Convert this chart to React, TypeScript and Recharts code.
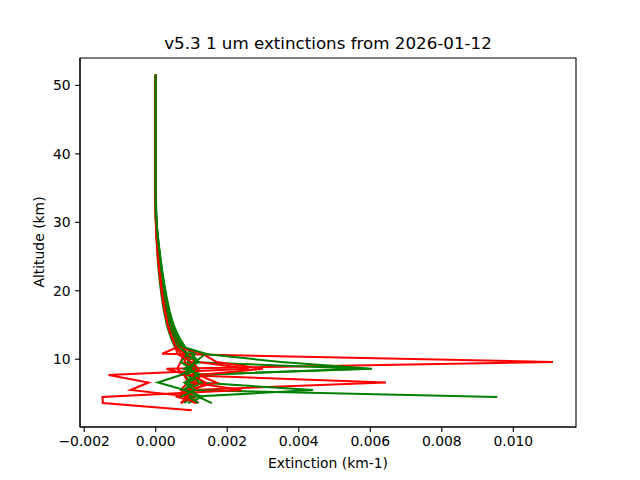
import { ScatterChart, Scatter, XAxis, YAxis, ReferenceArea } from "recharts"

// altitude grid (km), top to bottom
const altitude = [51.55, 45, 40, 35, 31, 29, 27, 25, 23, 21, 19, 17, 15, 13.8, 12.8, 11.8, 10.8, 9.6, 8.6, 7.7, 6.6, 5.5, 4.5, 3.6, 2.55]

// extinction profiles (km-1), one value per altitude level
const red1 = [0, 0, 0, 0, 0, 0.00002, 0.00004, 0.00007, 0.00011, 0.00015, 0.0002, 0.00027, 0.00036, 0.00044, 0.00052, 0.00062, 0.00018, 0.01111, 0.0003, 0.0009, 0.0012, 0.0008, 0.0011, 0.0007]
const red2 = [0, 0, 0, 0, 0.00001, 0.00003, 0.00005, 0.00009, 0.00013, 0.00018, 0.00024, 0.00031, 0.0004, 0.00049, 0.00058, 0.00068, 0.0009, 0.0008, 0.0011, 0.0007, 0.00644, 0.001, 0.0006, 0.00116]
const red3 = [0, 0, 0, 0, 0, 0.00001, 0.00003, 0.00006, 0.0001, 0.00014, 0.00019, 0.00025, 0.00034, 0.00041, 0.00049, 0.00057, 0.0007, 0.0012, 0.0026, -0.00132, -0.0002, -0.0007, 0.001, 0.0012]
const red4 = [0, 0, 0, 0, 0.00001, 0.00003, 0.00006, 0.0001, 0.00015, 0.0002, 0.00026, 0.00034, 0.00044, 0.00053, 0.00062, 0.00072, 0.0009, 0.0011, 0.0008, 0.0013, 0.001, 0.0024, -0.00149, -0.00148, 0.00101]
const red5 = [0, 0, 0, 0, 0, 0.00002, 0.00004, 0.00007, 0.00011, 0.00016, 0.00021, 0.00028, 0.00036, 0.00043, 0.00051, 0.0006, 0.0008, 0.0007, 0.0006, 0.0008, 0.0009, 0.0007, 0.0009, 0.0007]
const red6 = [0, 0, 0, 0, 0.00001, 0.00002, 0.00005, 0.00008, 0.00013, 0.00018, 0.00023, 0.0003, 0.00039, 0.00047, 0.00055, 0.00065, 0.0013, 0.0017, 0.003, 0.0012, 0.0017, 0.0009, 0.0006]
const red7 = [0, 0, 0, 0, 0, 0.00001, 0.00004, 0.00007, 0.0001, 0.00015, 0.0002, 0.00026, 0.00034, 0.00041, 0.00048, 0.00056, 0.0006, 0.001, 0.0012, 0.001, 0.0014, 0.0011, 0.0008, 0.0011]

const green1 = [0, 0, 0, 0, 0.00001, 0.00003, 0.00007, 0.00011, 0.00016, 0.00021, 0.00027, 0.00035, 0.00045, 0.00054, 0.00064, 0.00076, 0.0013, 0.0035, 0.00605, 0.0009, 0.0011, 0.0008, 0.001, 0.0008]
const green2 = [0, 0, 0, 0, 0, 0.00001, 0.00003, 0.00005, 0.00008, 0.00012, 0.00017, 0.00023, 0.00031, 0.00038, 0.00045, 0.00053, 0.0009, 0.0009, 0.0058, 0.0011, 0.0013, 0.0009, 0.0007]
const green3 = [0, 0, 0, 0, 0.00001, 0.00004, 0.00008, 0.00012, 0.00017, 0.00023, 0.00029, 0.00037, 0.00047, 0.00056, 0.00066, 0.00078, 0.0011, 0.0009, 0.0012, 0.0008, 0.001, 0.0008, 0.00955]
const green4 = [0, 0, 0, 0, 0.00001, 0.00003, 0.00006, 0.0001, 0.00015, 0.0002, 0.00026, 0.00033, 0.00043, 0.00052, 0.00061, 0.0007, 0.0008, 0.0012, 0.0009, 0.0011, 0.0012, 0.0044, 0.0009, 0.0012]
const green5 = [0, 0, 0, 0, 0.00002, 0.00004, 0.00008, 0.00013, 0.00018, 0.00024, 0.00031, 0.00039, 0.0005, 0.0006, 0.0007, 0.00082, 0.001, 0.0012, 0.0008, 0.0013, 0.0009, 0.001, 0.0012, 0.00157]
const green6 = [0, 0, 0, 0, 0, 0.00002, 0.00005, 0.00008, 0.00012, 0.00017, 0.00022, 0.00029, 0.00038, 0.00046, 0.00054, 0.00063, 0.0009, 0.0007, 0.001, 0.0007, 0.00006, 0.0008, 0.0013, 0.0009]
const green7 = [0, 0, 0, 0, 0.00001, 0.00004, 0.00007, 0.00012, 0.00017, 0.00022, 0.00028, 0.00036, 0.00046, 0.00055, 0.00065, 0.00076, 0.0014, 0.0011, 0.0009, 0.0012, 0.0008, 0.0011, 0.0007]

const xTicks = [-0.002, 0, 0.002, 0.004, 0.006, 0.008, 0.01]
const yTicks = [10, 20, 30, 40, 50]

const X_MIN = -0.002117
const X_MAX = 0.011753
const Y_MIN = 0.1
const Y_MAX = 54.0

const profiles = [
  { vals: red1, color: "#ff0000" },
  { vals: green1, color: "#008000" },
  { vals: red2, color: "#ff0000" },
  { vals: green2, color: "#008000" },
  { vals: red3, color: "#ff0000" },
  { vals: green3, color: "#008000" },
  { vals: red4, color: "#ff0000" },
  { vals: green4, color: "#008000" },
  { vals: red5, color: "#ff0000" },
  { vals: green5, color: "#008000" },
  { vals: red6, color: "#ff0000" },
  { vals: green6, color: "#008000" },
  { vals: red7, color: "#ff0000" },
  { vals: green7, color: "#008000" },
]

const toPoints = (vals: number[]) => vals.map((v, i) => ({ x: v, y: altitude[i] }))

const fmtX = (v: number) => (v < 0 ? "\u2212" + Math.abs(v).toFixed(3) : v.toFixed(3))

const noDot = () => <g />

export default function App() {
  return (
    <div
      style={{
        position: "absolute",
        left: 0,
        top: 0,
        width: 640,
        height: 480,
        background: "#fff",
        fontFamily: "'DejaVu Sans', sans-serif",
      }}
    >
      <div
        style={{
          position: "absolute",
          left: 80,
          width: 496,
          top: 35.2,
          fontSize: 16.7,
          lineHeight: 1,
          textAlign: "center",
          whiteSpace: "nowrap",
        }}
      >
        v5.3 1 um extinctions from 2026-01-12
      </div>

      <ScatterChart width={640} height={480} margin={{ top: 58, right: 64, left: 0, bottom: 0 }}>
        <XAxis
          type="number"
          dataKey="x"
          domain={[X_MIN, X_MAX]}
          ticks={xTicks}
          tickFormatter={fmtX}
          allowDataOverflow
          height={53}
          tickSize={4.9}
          tickMargin={4.5}
          tick={{ fill: "#000", fontSize: 13.9 }}
          tickLine={{ stroke: "#000", strokeWidth: 1.1 }}
          axisLine={{ stroke: "#000", strokeWidth: 1.1 }}
        />
        <YAxis
          type="number"
          dataKey="y"
          domain={[Y_MIN, Y_MAX]}
          ticks={yTicks}
          allowDataOverflow
          width={80}
          tickSize={4.9}
          tickMargin={4.5}
          tick={{ fill: "#000", fontSize: 13.9 }}
          tickLine={{ stroke: "#000", strokeWidth: 1.1 }}
          axisLine={{ stroke: "#000", strokeWidth: 1.1 }}
        />
        {profiles.map((p, i) => (
          <Scatter
            key={i}
            data={toPoints(p.vals)}
            fill={p.color}
            line={{ stroke: p.color, strokeWidth: 2 }}
            lineType="joint"
            shape={noDot}
            isAnimationActive={false}
          />
        ))}
        <ReferenceArea
          x1={X_MIN}
          x2={X_MAX}
          y1={Y_MIN}
          y2={Y_MAX}
          fill="none"
          fillOpacity={0}
          stroke="#000"
          strokeWidth={1.1}
          ifOverflow="visible"
        />
      </ScatterChart>

      <div
        style={{
          position: "absolute",
          left: 80,
          width: 496,
          top: 456.7,
          fontSize: 13.9,
          lineHeight: 1,
          textAlign: "center",
          whiteSpace: "nowrap",
        }}
      >
        Extinction (km-1)
      </div>
      <div
        style={{
          position: "absolute",
          left: 40,
          top: 242.4,
          fontSize: 13.9,
          lineHeight: 1,
          whiteSpace: "nowrap",
          transform: "translate(-50%, -50%) rotate(-90deg)",
        }}
      >
        Altitude (km)
      </div>
    </div>
  )
}
